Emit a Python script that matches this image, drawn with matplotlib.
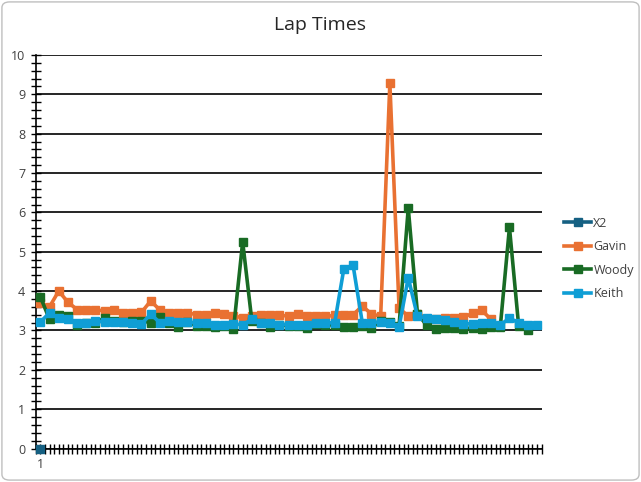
import numpy as np
import matplotlib
matplotlib.use("Agg")
import matplotlib.pyplot as plt
from matplotlib.patches import FancyBboxPatch
from matplotlib.ticker import MultipleLocator

nan = np.nan
categories = list(range(1, 56))
x2 = [0.0] + [nan] * 54
gavin = [3.70, 3.60, 4.00, 3.72, 3.53, 3.52, 3.52, 3.50, 3.53, 3.44,
         3.45, 3.46, 3.75, 3.52, 3.44, 3.45, 3.45, 3.40, 3.40, 3.44,
         3.42, 3.37, 3.32, 3.36, 3.38, 3.40, 3.38, 3.37, 3.42, 3.36,
         3.37, 3.36, 3.38, 3.40, 3.40, 3.62, 3.42, 3.36, 9.28, 3.57,
         3.36, 3.43, 3.30, 3.28, 3.32, 3.32, 3.33, 3.44, 3.51, 3.28,
         nan, nan, nan, nan, nan]
woody = [3.86, 3.28, 3.38, 3.36, 3.13, 3.19, 3.20, 3.32, 3.23, 3.22,
         3.25, 3.24, 3.20, 3.35, 3.19, 3.10, 3.22, 3.12, 3.12, 3.10,
         3.12, 3.03, 5.25, 3.24, 3.20, 3.10, 3.15, 3.12, 3.12, 3.07,
         3.16, 3.14, 3.14, 3.10, 3.10, 3.12, 3.06, 3.25, 3.22, 3.12,
         6.11, 3.43, 3.13, 3.04, 3.06, 3.06, 3.04, 3.06, 3.04, 3.08,
         3.08, 5.62, 3.12, 3.02, nan]
keith = [3.21, 3.45, 3.32, 3.28, 3.19, 3.19, 3.23, 3.22, 3.21, 3.21,
         3.19, 3.17, 3.41, 3.20, 3.23, 3.22, 3.22, 3.19, 3.20, 3.15,
         3.15, 3.16, 3.15, 3.28, 3.19, 3.19, 3.15, 3.15, 3.14, 3.14,
         3.19, 3.20, 3.19, 4.57, 4.66, 3.20, 3.20, 3.22, 3.20, 3.09,
         4.34, 3.36, 3.32, 3.30, 3.26, 3.21, 3.17, 3.17, 3.18, 3.19,
         3.13, 3.32, 3.19, 3.13, 3.15]
series_names = ["X2", "Gavin", "Woody", "Keith"]
series_colors = ["#156082", "#E97132", "#196B24", "#0F9ED5"]
xtick_labels = ["1"]

plt.rcParams['font.family'] = ['Open Sans', 'DejaVu Sans']

fig = plt.figure(figsize=(6.41, 4.82), dpi=100)
fig.patch.set_facecolor("white")
border = FancyBboxPatch((0.003, 0.004), 0.994, 0.992, boxstyle="round,pad=0,rounding_size=0.012",
                        transform=fig.transFigure, facecolor="none", edgecolor="#BFBFBF", lw=1.0)
fig.patches.append(border)

ax = fig.add_axes([0.0557, 0.0695, 0.7893, 0.8164])
x = np.arange(len(categories))
for data, name, col in zip([x2, gavin, woody, keith], series_names, series_colors):
    ax.plot(x, data, color=col, lw=2.6, marker="s", markersize=6,
            markerfacecolor=col, markeredgecolor=col, label=name,
            solid_joinstyle="miter", clip_on=False, zorder=3)

ax.set_xlim(-0.5, len(categories) - 0.5)
ax.set_ylim(0, 10)
ax.yaxis.set_major_locator(MultipleLocator(1))
ax.yaxis.set_minor_locator(MultipleLocator(0.2))
ax.set_xticks([0])
ax.set_xticklabels(xtick_labels)
ax.set_xticks(np.arange(-0.5, len(categories), 0.5), minor=True)
ax.grid(axis="y", which="major", color="black", lw=1.2)
ax.set_axisbelow(True)
for s in ["top", "right"]:
    ax.spines[s].set_visible(False)
for s in ["left", "bottom"]:
    ax.spines[s].set_color("black")
    ax.spines[s].set_linewidth(1.2)
ax.tick_params(axis="both", which="both", direction="inout", color="black", width=1.0)
ax.tick_params(axis="y", which="major", length=7, labelsize=9, labelcolor="#404040", pad=4)
ax.tick_params(axis="y", which="minor", length=7)
ax.tick_params(axis="x", which="major", length=7, labelsize=9, labelcolor="#404040", pad=3)
ax.tick_params(axis="x", which="minor", length=7)

fig.text(0.5, 0.948, "Lap Times", ha="center", va="center", fontsize=14, color="#262626")

leg = ax.legend(loc="center left", bbox_to_anchor=(0.872, 0.4637), bbox_transform=fig.transFigure,
                frameon=False, fontsize=9, labelspacing=0.85, handlelength=2.2,
                handletextpad=0.15, borderaxespad=0)
for t in leg.get_texts():
    t.set_color("#404040")

fig.savefig("out.png", dpi=100)
